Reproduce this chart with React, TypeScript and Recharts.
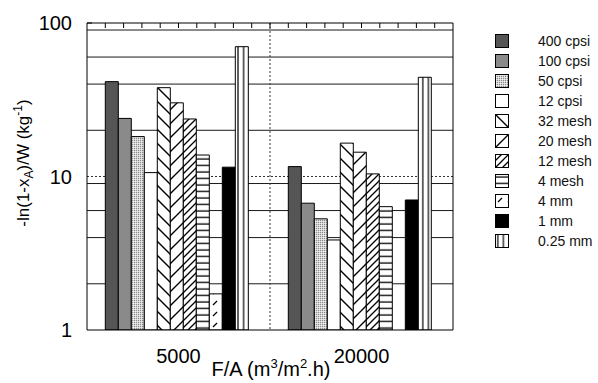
import React from 'react'
import { BarChart, Bar, XAxis, YAxis, CartesianGrid } from 'recharts'

const FONT = '"Liberation Sans", Arial, Helvetica, sans-serif'

// flow rate per area, m3/m2.h
const categories = ['5000', '20000']

// -ln(1-xA)/W per catalyst support, kg^-1
const cpsi400 = [41.5, 11.6]
const cpsi100 = [23.9, 6.7]
const cpsi50 = [18.2, 5.3]
const cpsi12 = [10.6, 3.86]
const mesh32 = [37.9, 16.5]
const mesh20 = [30.2, 14.4]
const mesh12 = [23.7, 10.4]
const mesh4 = [13.8, 6.36]
const mm4 = [1.72, null]
const mm1 = [11.5, 7.03]
const mm025 = [70.1, 44.3]

const yTicks = [1, 10, 100]
const minorGrid = [2, 3, 4, 5, 6, 7, 8, 9, 20, 30, 40, 50, 60, 70, 80, 90]
const TOP_TICK_COUNT = 20

const series = [
    { key: 'c400', name: '400 cpsi', values: cpsi400, fill: '#555555' },
    { key: 'c100', name: '100 cpsi', values: cpsi100, fill: '#8a8a8a' },
    { key: 'c50', name: '50 cpsi', values: cpsi50, fill: 'url(#stipple)' },
    { key: 'c12', name: '12 cpsi', values: cpsi12, fill: '#ffffff' },
    { key: 'm32', name: '32 mesh', values: mesh32, fill: 'url(#back)' },
    { key: 'm20', name: '20 mesh', values: mesh20, fill: 'url(#fwd)' },
    { key: 'm12', name: '12 mesh', values: mesh12, fill: 'url(#fwdDense)' },
    { key: 'm4', name: '4 mesh', values: mesh4, fill: 'url(#horiz)' },
    { key: 'mm4', name: '4 mm', values: mm4, fill: 'url(#dash)' },
    { key: 'mm1', name: '1 mm', values: mm1, fill: '#000000' },
    { key: 'mm025', name: '0.25 mm', values: mm025, fill: 'url(#vert)' },
]

const data = categories.map((fa, i) => {
    const row: Record<string, any> = { fa }
    series.forEach((s) => {
        row[s.key] = s.values[i]
    })
    return row
})

// vertical line positions derived from the plot area
const midDivider = ({ offset }: any) => [offset.left + offset.width / 2]
const rightEdge = ({ offset }: any) => [offset.left + offset.width]
const topTickPositions = ({ offset }: any) => {
    const xs: number[] = []
    for (let i = 1; i < TOP_TICK_COUNT; i++) xs.push(offset.left + (offset.width * i) / TOP_TICK_COUNT)
    return xs
}

const Patterns = () => (
    <defs>
        <pattern id="stipple" patternUnits="userSpaceOnUse" width={2} height={2}>
            <rect width={2} height={2} fill="#d4d4d4" />
            <rect width={1} height={1} fill="#8c8c8c" />
            <rect x={1} y={1} width={1} height={1} fill="#f0f0f0" />
        </pattern>
        <pattern id="back" patternUnits="userSpaceOnUse" width={14} height={14}>
            <rect width={14} height={14} fill="#fff" />
            <path d="M0,0 L14,14 M-2,12 L2,16 M12,-2 L16,2" stroke="#000" strokeWidth={1.4} />
        </pattern>
        <pattern id="fwd" patternUnits="userSpaceOnUse" width={14} height={14}>
            <rect width={14} height={14} fill="#fff" />
            <path d="M0,14 L14,0 M-2,2 L2,-2 M12,16 L16,12" stroke="#000" strokeWidth={1.4} />
        </pattern>
        <pattern id="fwdDense" patternUnits="userSpaceOnUse" width={7} height={7}>
            <rect width={7} height={7} fill="#fff" />
            <path d="M0,7 L7,0 M-1,1 L1,-1 M6,8 L8,6" stroke="#000" strokeWidth={1.3} />
        </pattern>
        <pattern id="horiz" patternUnits="userSpaceOnUse" width={6} height={6.5}>
            <rect width={6} height={6.5} fill="#fff" />
            <path d="M0,3 L6,3" stroke="#000" strokeWidth={1.3} />
        </pattern>
        <pattern id="dash" patternUnits="userSpaceOnUse" width={10} height={11}>
            <rect width={10} height={11} fill="#fff" />
            <path d="M3,8 L7,4" stroke="#000" strokeWidth={1.3} />
        </pattern>
        <pattern id="vert" patternUnits="userSpaceOnUse" width={5.6} height={10}>
            <rect width={5.6} height={10} fill="#fff" />
            <path d="M2.8,0 L2.8,10" stroke="#000" strokeWidth={1.2} />
        </pattern>
    </defs>
)

const LegendBox = () => (
    <div style={{ position: 'absolute', left: 495, top: 31, fontFamily: FONT, fontSize: 14, color: '#111' }}>
        {series.map((s) => (
            <div key={s.key} style={{ display: 'flex', alignItems: 'center', height: 20 }}>
                <svg width={14} height={14} style={{ display: 'block' }}>
                    <rect x={0.5} y={0.5} width={13} height={13} fill={s.fill} stroke="#000" strokeWidth={1} />
                </svg>
                <span style={{ marginLeft: 29, whiteSpace: 'nowrap' }}>{s.name}</span>
            </div>
        ))}
    </div>
)

export default function App() {
    return (
        <div style={{ position: 'absolute', left: 0, top: 0, width: 598, height: 383, background: '#fff' }}>
            <BarChart
                width={598}
                height={383}
                data={data}
                margin={{ top: 23, right: 145, bottom: 0, left: 0 }}
                barCategoryGap="10%"
                barGap={0}
            >
                <Patterns />
                <CartesianGrid horizontalValues={minorGrid} vertical={false} stroke="#1a1a1a" strokeWidth={1} />
                <CartesianGrid
                    horizontalValues={[10]}
                    verticalCoordinatesGenerator={midDivider}
                    stroke="#333"
                    strokeDasharray="2 2"
                />
                {/* short ticks hanging from the top frame: only the first dash of each line shows */}
                <CartesianGrid
                    horizontalValues={[100]}
                    verticalCoordinatesGenerator={topTickPositions}
                    stroke="#000"
                    strokeWidth={1}
                    strokeDasharray="5 1000"
                />
                <CartesianGrid
                    horizontalValues={[100]}
                    verticalCoordinatesGenerator={rightEdge}
                    stroke="#000"
                    strokeWidth={1}
                />
                <XAxis
                    dataKey="fa"
                    height={53}
                    tickLine={false}
                    tickSize={0}
                    tickMargin={19}
                    axisLine={{ stroke: '#000' }}
                    tick={{ fontSize: 20, fill: '#000', fontFamily: FONT }}
                />
                <YAxis
                    type="number"
                    scale="log"
                    domain={[1, 100]}
                    ticks={yTicks}
                    allowDataOverflow
                    width={87}
                    tickLine={false}
                    tickSize={0}
                    tickMargin={15}
                    axisLine={{ stroke: '#000' }}
                    tick={{ fontSize: 20, fill: '#000', fontFamily: FONT }}
                />
                {series.map((s) => (
                    <Bar
                        key={s.key}
                        dataKey={s.key}
                        name={s.name}
                        fill={s.fill}
                        stroke="#000"
                        strokeWidth={1}
                        isAnimationActive={false}
                    />
                ))}
                <text
                    transform="translate(29,163) rotate(-90)"
                    textAnchor="middle"
                    fontFamily={FONT}
                    fontSize={17}
                    fill="#000"
                >
                    -ln(1-x<tspan fontSize={12} dy={4}>A</tspan>
                    <tspan dy={-4}>)/W (kg</tspan>
                    <tspan fontSize={12} dy={-7}>-1</tspan>
                    <tspan dy={7}>)</tspan>
                </text>
                <text x={271} y={376} textAnchor="middle" fontFamily={FONT} fontSize={20} fill="#000">
                    F/A (m<tspan fontSize={13} dy={-8}>3</tspan>
                    <tspan dy={8}>/m</tspan>
                    <tspan fontSize={13} dy={-8}>2</tspan>
                    <tspan dy={8}>.h)</tspan>
                </text>
            </BarChart>
            <LegendBox />
        </div>
    )
}
